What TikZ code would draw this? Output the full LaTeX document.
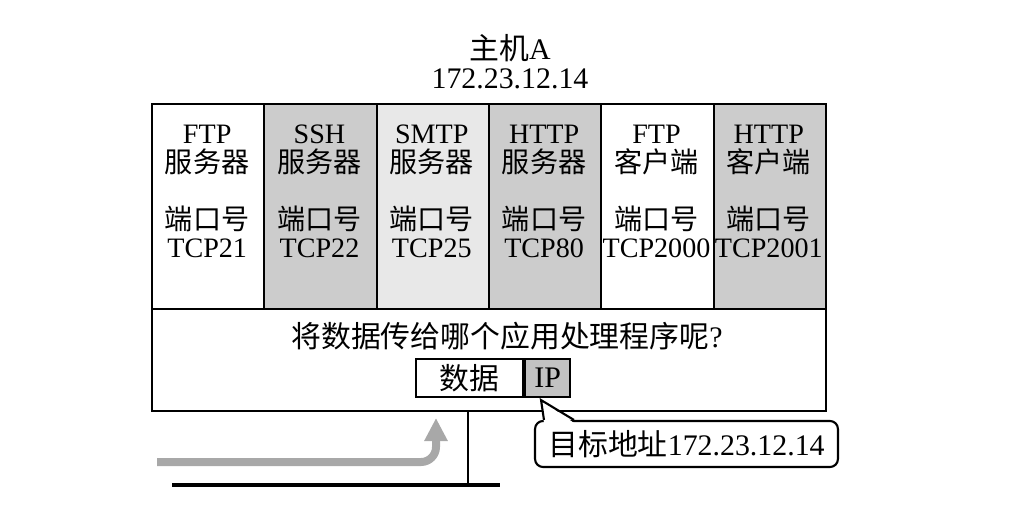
\documentclass[tikz,border=0pt]{standalone}
\usepackage{fontspec}
\setmainfont{Liberation Serif}
\newfontfamily\cjk{Noto Sans CJK SC}
\usepackage{tikz}
\usetikzlibrary{positioning, arrows.meta}
\definecolor{cellgray}{gray}{0.80}
\definecolor{celllight}{gray}{0.91}
\definecolor{ipgray}{gray}{0.76}
\definecolor{arrowgray}{gray}{0.66}
\newcommand\tightlines{\lineskiplimit=-50pt\relax}

\begin{document}
\begin{tikzpicture}[x=0.02cm, y=-0.02cm,
  box/.style={draw, line width=1.2pt, inner sep=0pt},
  cell/.style={box, anchor=north west, minimum width=2.2467cm, minimum height=4.1cm},
  lbl/.style={align=center, font={\fontsize{16}{15.6}\selectfont\tightlines}},
  applbl/.style={lbl, font={\fontsize{16}{16.8}\selectfont\tightlines}},
  big/.style={font={\fontsize{17}{16.6}\selectfont\tightlines}},
  flow/.style={draw=arrowgray, line width=0.16cm, rounded corners=0.3cm,
    -{Triangle[length=0.46cm, width=0.44cm]}}]
  \useasboundingbox (0,0) rectangle (1036,511);
  % host name and address
  \node[big, align=center] (hostname) at (510,62) {{\cjk 主机}A\\172.23.12.14};
  % one column per application, with its port
  \foreach \i/\shade/\proto/\role/\port in {1/white/FTP/服务器/21, 2/cellgray/SSH/服务器/22,
      3/celllight/SMTP/服务器/25, 4/cellgray/HTTP/服务器/80,
      5/white/FTP/客户端/2000, 6/cellgray/HTTP/客户端/2001} {
    \node[cell, fill=\shade] (col\i) at ({151+(\i-1)*112.33},103) {};
    \node[applbl] (app\i) at ({151+(\i-0.5)*112.33},150) {\proto\\{\cjk\role}};
    \node[lbl] (port\i) at ({151+(\i-0.5)*112.33},232) {{\cjk 端口号}\\TCP\port};
  }
  \node[box, anchor=north west, minimum width=13.48cm, minimum height=6.14cm] (host) at (151,103) {};
  \node[big] (ask) at (507,336) {{\cjk 将数据传给哪个应用处理程序呢}?};
  % incoming packet
  \node[box, big, minimum width=2.14cm, minimum height=0.76cm] (data) at (469.5,378) {\cjk 数据};
  \node[box, big, fill=ipgray, minimum width=0.9cm, minimum height=0.76cm, right=0pt of data] (ip) {IP};
  % destination address callout
  \node[box, big, fill=white, rounded corners=0.16cm, minimum width=6.06cm, minimum height=0.92cm]
    (dest) at (686.5,444) {{\cjk 目标地址}172.23.12.14};
  \coordinate (tip) at ([xshift=0.34cm, yshift=-0.04cm]ip.south west);
  \fill[white] ([xshift=0.2cm, yshift=-0.06cm]dest.north west) -- (tip)
    -- ([xshift=0.8cm, yshift=-0.06cm]dest.north west) -- cycle;
  \draw[line width=1.2pt] ([xshift=0.2cm]dest.north west) -- (tip) -- ([xshift=0.8cm]dest.north west);
  % network line and delivery path
  \coordinate (wireL) at (172,485);
  \coordinate (wireR) at (500,485);
  \coordinate (drop) at (468,485);
  \draw[line width=2.2pt] (wireL) -- (wireR);
  \draw[line width=1.2pt] (drop |- host.south) -- (drop);
  \coordinate (feed) at (157,462);
  \coordinate (rise) at (436,418);
  \draw[flow] (feed) -| (rise);
\end{tikzpicture}
\end{document}
